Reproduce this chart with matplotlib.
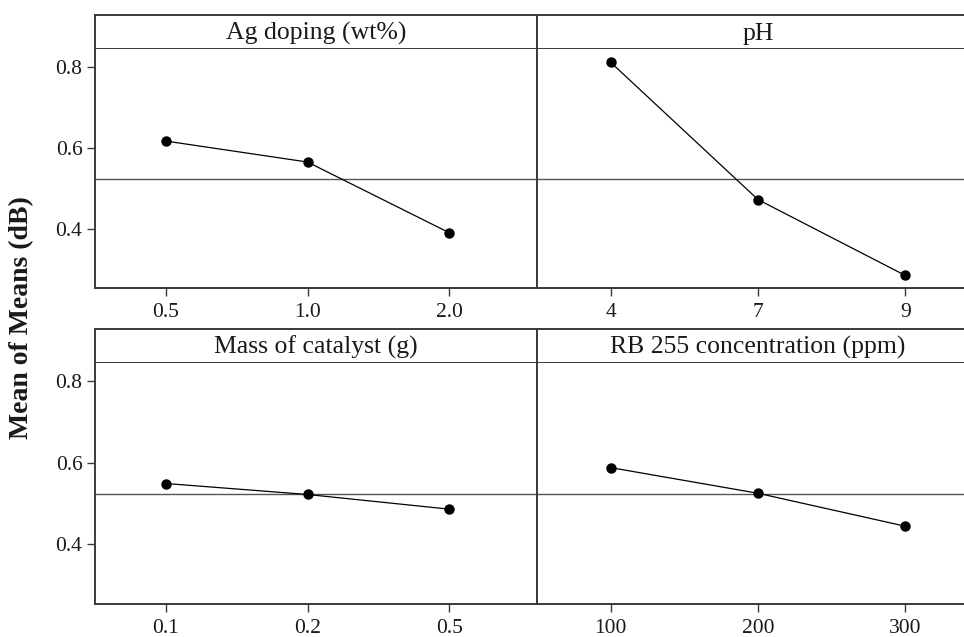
import matplotlib
matplotlib.use('Agg')
import matplotlib.pyplot as plt

plt.rcParams['font.family'] = ['Liberation Serif', 'DejaVu Serif']

# datos (Main effects plot for means)
ag_levels = ['0.5', '1.0', '2.0']
ag_means = [0.617, 0.565, 0.390]
ph_levels = ['4', '7', '9']
ph_means = [0.812, 0.472, 0.284]
mass_levels = ['0.1', '0.2', '0.5']
mass_means = [0.549, 0.522, 0.486]
rb_levels = ['100', '200', '300']
rb_means = [0.588, 0.525, 0.444]
grand_mean = 0.522

W, H = 964, 637
fig = plt.figure(figsize=(W / 100, H / 100), dpi=100)

frame_col = '#3a3a3a'
text_col = '#1a1a1a'


def px_axes(x0, y0, x1, y1):
    # convierte pixeles (desde arriba) a fracciones de figura
    return fig.add_axes([x0 / W, (H - y1) / H, (x1 - x0) / W, (y1 - y0) / H])


def panel(x0, x1, top, strip_bot, bot, title, levels, means, xmax, show_y):
    strip = px_axes(x0, top, x1, strip_bot)
    strip.set_xticks([])
    strip.set_yticks([])
    for s in strip.spines.values():
        s.set_color(frame_col)
        s.set_linewidth(1.4)
    strip.text(0.5, 0.45, title, ha='center', va='center', fontsize=18.5,
               color=text_col, transform=strip.transAxes)

    ax = px_axes(x0, strip_bot, x1, bot)
    xs = [1, 2, 3]
    ax.axhline(grand_mean, color='#555555', lw=1.0, zorder=1)
    ax.plot(xs, means, color='black', lw=0.9, marker='o', markersize=6.5, zorder=3)
    ax.set_xlim(0.5, xmax)
    ax.set_ylim(0.253, 0.845)
    ax.set_xticks(xs)
    ax.set_xticklabels(levels)
    ax.set_yticks([0.4, 0.6, 0.8])
    if show_y:
        ax.set_yticklabels(['0.4', '0.6', '0.8'])
        ax.tick_params(axis='y', length=6, width=1, colors=frame_col,
                       labelcolor=text_col, labelsize=15.5, pad=3)
    else:
        ax.tick_params(axis='y', left=False, labelleft=False)
    ax.tick_params(axis='x', length=6, width=1, colors=frame_col,
                   labelcolor=text_col, labelsize=15.5, pad=5)
    for s in ax.spines.values():
        s.set_color(frame_col)
        s.set_linewidth(1.4)
    ax.spines['top'].set_visible(False)
    return ax


panel(95, 537, 15, 49, 288, 'Ag doping (wt%)', ag_levels, ag_means, 3.62, True)
panel(537, 979, 15, 49, 288, 'pH', ph_levels, ph_means, 3.5, False)
panel(95, 537, 329, 363, 604, 'Mass of catalyst (g)', mass_levels, mass_means, 3.62, True)
panel(537, 979, 329, 363, 604, 'RB 255 concentration (ppm)', rb_levels, rb_means, 3.5, False)

fig.text(22 / W, 1 - 318 / H, 'Mean of Means (dB)', rotation=90, ha='center', va='center',
         fontsize=20, fontweight='bold', color=text_col)

fig.savefig('out.png', dpi=100, facecolor='white')
